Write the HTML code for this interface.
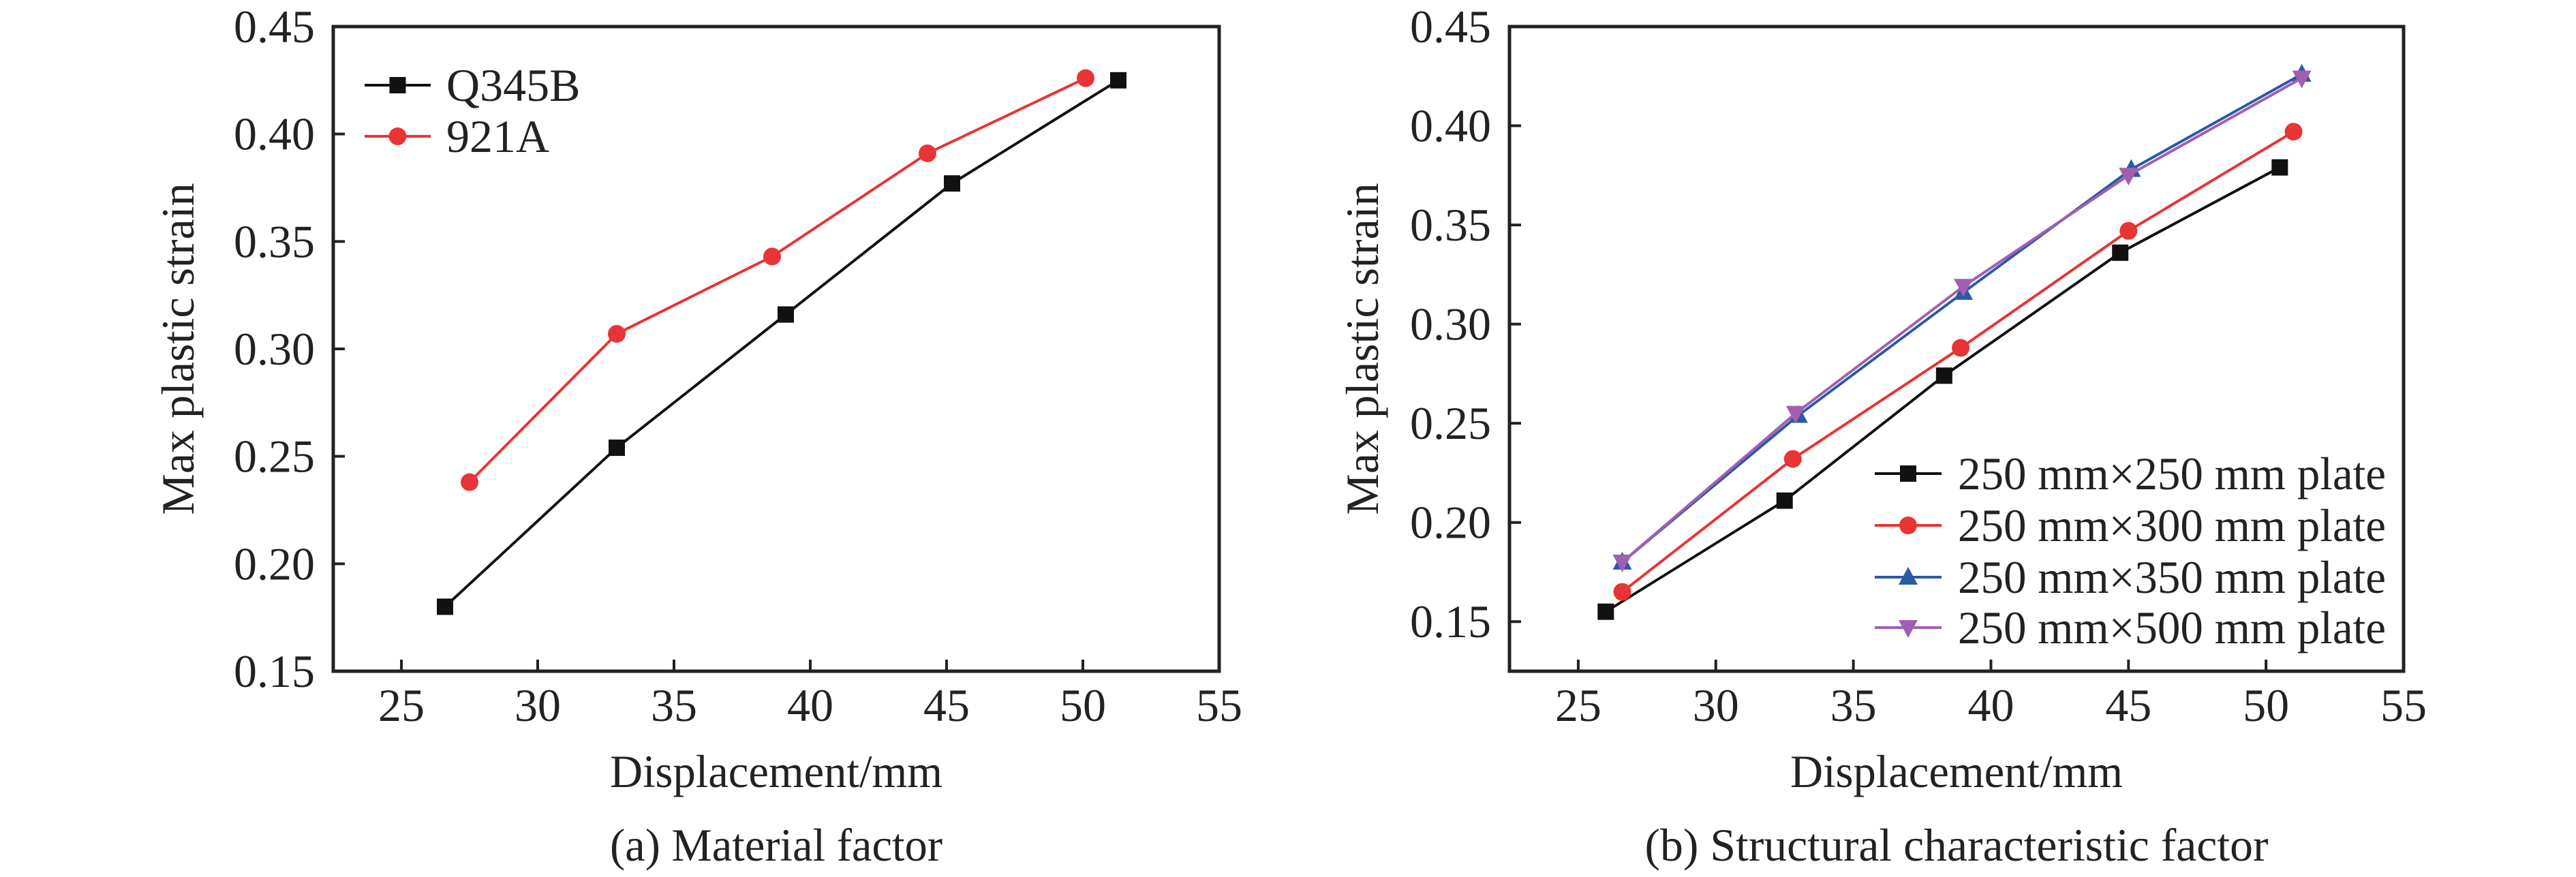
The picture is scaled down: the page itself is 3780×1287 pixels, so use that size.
<!DOCTYPE html>
<html><head><meta charset="utf-8"><style>
html,body{margin:0;padding:0;background:#fff;}
svg{display:block;font-family:"Liberation Serif","Times New Roman",serif;}
</style></head><body>
<svg id="fig" width="3780" height="1287" viewBox="0 0 3780 1287" xmlns="http://www.w3.org/2000/svg"></svg>
<script>
const xTicks = [25, 30, 35, 40, 45, 50, 55];
const yTicksA = [0.15, 0.20, 0.25, 0.30, 0.35, 0.40, 0.45];
const yTicksB = [0.15, 0.20, 0.25, 0.30, 0.35, 0.40, 0.45];
const q345bX = [26.6, 32.9, 39.1, 45.2, 51.3];
const q345bY = [0.180, 0.254, 0.316, 0.377, 0.425];
const a921X = [27.5, 32.9, 38.6, 44.3, 50.1];
const a921Y = [0.238, 0.307, 0.343, 0.391, 0.426];
const p250X = [26.0, 32.5, 38.3, 44.7, 50.5];
const p250Y = [0.155, 0.211, 0.274, 0.336, 0.379];
const p300X = [26.6, 32.8, 38.9, 45.0, 51.0];
const p300Y = [0.165, 0.232, 0.288, 0.347, 0.397];
const p350X = [26.6, 33.0, 39.0, 45.1, 51.3];
const p350Y = [0.180, 0.254, 0.316, 0.378, 0.426];
const p500X = [26.6, 32.9, 39.0, 45.0, 51.3];
const p500Y = [0.180, 0.255, 0.319, 0.375, 0.424];

const NS = "http://www.w3.org/2000/svg";
const svg = document.getElementById('fig');
const FS = 68;
function mk(tag, attrs, parent) {
  const e = document.createElementNS(NS, tag);
  for (const k in attrs) e.setAttribute(k, attrs[k]);
  (parent || svg).appendChild(e);
  return e;
}
function txt(s, attrs, parent) { const t = mk('text', attrs, parent); t.textContent = s; return t; }

function marker(g, type, cx, cy, color) {
  let m;
  if (type === 'square') m = mk('rect', {x: cx-12, y: cy-12, width: 24, height: 24, fill: color}, g);
  else if (type === 'circle') m = mk('circle', {cx: cx, cy: cy, r: 13, fill: color}, g);
  else if (type === 'up') m = mk('polygon', {points: `${cx},${cy-15} ${cx+14},${cy+11} ${cx-14},${cy+11}`, fill: color}, g);
  else m = mk('polygon', {points: `${cx},${cy+15} ${cx+14},${cy-11} ${cx-14},${cy-11}`, fill: color}, g);
  return m;
}

function panel(cfg) {
  const {L, R, T, B, xmin, xmax, ymin, ymax, yTicks, series, name, caption, legend} = cfg;
  const sx = v => L + (v - xmin) / (xmax - xmin) * (R - L);
  const sy = v => B - (v - ymin) / (ymax - ymin) * (B - T);
  const g = mk('g', {});
  
  
  xTicks.forEach(t => {
    const x = sx(t);
    const tk = mk('line', {x1: x, x2: x, y1: B, y2: B - 17, stroke: '#222', 'stroke-width': 4}, g);
    
    
    const lb = txt(String(t), {x: x, y: 1058, 'font-size': FS, 'text-anchor': 'middle', fill: '#222'}, g);
    
    
  });
  yTicks.forEach(t => {
    const y = sy(t);
    const tk = mk('line', {x1: L, x2: L + 17, y1: y, y2: y, stroke: '#222', 'stroke-width': 4}, g);
    
    
    const lb = txt(t.toFixed(2), {x: L - 27, y: y + 23, 'font-size': FS, 'text-anchor': 'end', fill: '#222'}, g);
    
    
  });
  series.forEach(s => {
    const sg = mk('g', {}, g);
    
    
    const pts = s.x.map((v, i) => sx(v) + ',' + sy(s.y[i])).join(' ');
    const pl = mk('polyline', {points: pts, fill: 'none', stroke: s.color, 'stroke-width': 4}, sg);
    
    
    s.x.forEach((v, i) => {
      const m = marker(sg, s.marker, sx(v), sy(s.y[i]), s.color);
      
      
    });
  });
  const fr = mk('rect', {x: L, y: T, width: R - L, height: B - T, fill: 'none', stroke: '#222', 'stroke-width': 5}, g);
  
  
  const cx = (L + R) / 2;
  const xl = txt('Displacement/mm', {x: cx, y: 1155, 'font-size': FS, 'text-anchor': 'middle', fill: '#222', textLength: 488, lengthAdjust: 'spacingAndGlyphs'}, g);
  
  
  const cp = txt(caption, {x: cx, y: 1263, 'font-size': FS, 'text-anchor': 'middle', fill: '#222', textLength: cfg.capLen, lengthAdjust: 'spacingAndGlyphs'}, g);
  
  
  const yx = cfg.ytx, yy = (T + B) / 2;
  const yl = txt('Max plastic strain', {x: yx, y: yy, 'font-size': FS, 'text-anchor': 'middle', fill: '#222', transform: `rotate(-90 ${yx} ${yy})`}, g);
  
  
  const lg = mk('g', {}, g);
  
  
  series.forEach((s, i) => {
    const y = legend.y[i];
    const eg = mk('g', {}, lg);
    
    
    mk('line', {x1: legend.x1, x2: legend.x2, y1: y, y2: y, stroke: s.color, 'stroke-width': 4}, eg);
    marker(eg, s.marker, (legend.x1 + legend.x2) / 2, y, s.color);
    const a = {x: legend.tx, y: y + 23, 'font-size': FS, fill: '#222'};
    if (legend.tl) { a.textLength = legend.tl; a.lengthAdjust = 'spacingAndGlyphs'; }
    txt(s.label, a, eg);
  });
}

panel({L: 489, R: 1789, T: 39, B: 985, xmin: 22.5, xmax: 55, ymin: 0.15, ymax: 0.45, yTicks: yTicksA,
  name: 'panel-a-material', caption: '(a) Material factor', ytx: 284, capLen: 488,
  legend: {x1: 535, x2: 632, tx: 655, y: [125, 200]},
  series: [
    {name: 'series-q345b', label: 'Q345B', x: q345bX, y: q345bY, color: '#111', marker: 'square'},
    {name: 'series-921a', label: '921A', x: a921X, y: a921Y, color: '#e83434', marker: 'circle'}
  ]});
panel({L: 2215, R: 3527, T: 39, B: 985, xmin: 22.5, xmax: 55, ymin: 0.125, ymax: 0.45, yTicks: yTicksB,
  name: 'panel-b-structural', caption: '(b) Structural characteristic factor', ytx: 2022, capLen: 915,
  legend: {x1: 2751, x2: 2849, tx: 2873, tl: 628, y: [695, 771, 847, 921]},
  series: [
    {name: 'series-250x250', label: '250 mm×250 mm plate', x: p250X, y: p250Y, color: '#111', marker: 'square'},
    {name: 'series-250x300', label: '250 mm×300 mm plate', x: p300X, y: p300Y, color: '#e83434', marker: 'circle'},
    {name: 'series-250x350', label: '250 mm×350 mm plate', x: p350X, y: p350Y, color: '#2b59a8', marker: 'up'},
    {name: 'series-250x500', label: '250 mm×500 mm plate', x: p500X, y: p500Y, color: '#a25fb2', marker: 'down'}
  ]});
</script>
</body></html>
